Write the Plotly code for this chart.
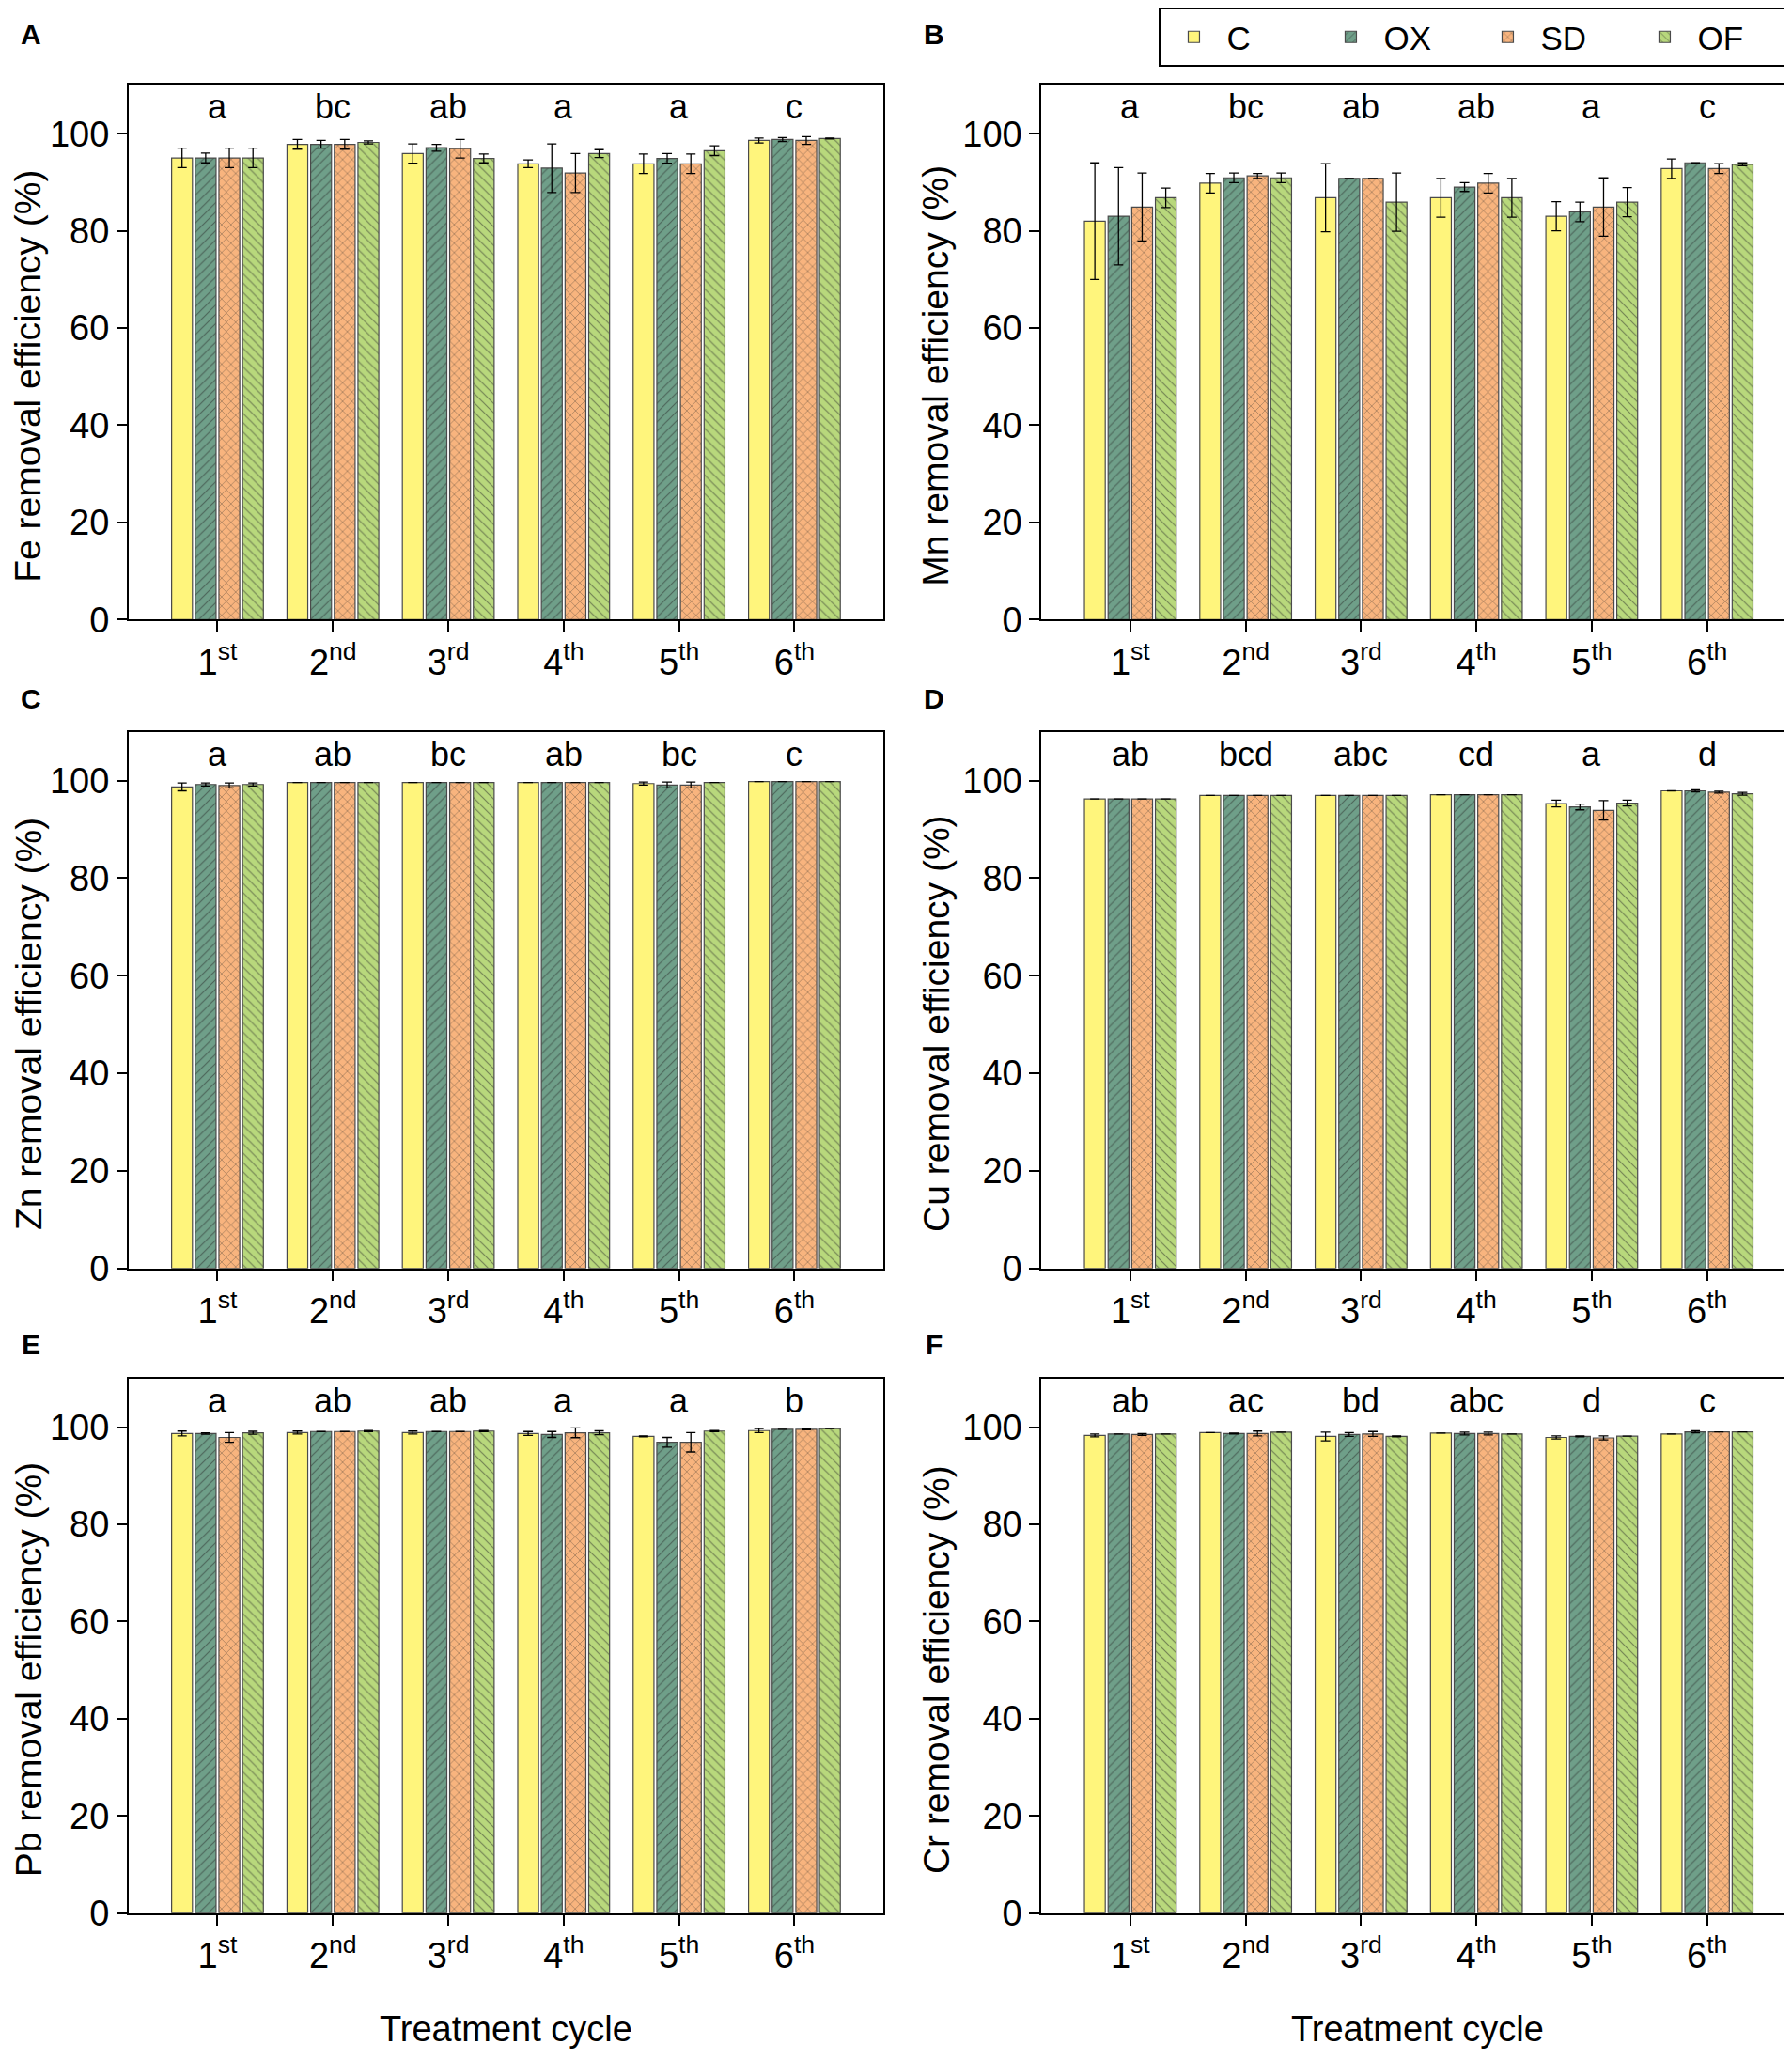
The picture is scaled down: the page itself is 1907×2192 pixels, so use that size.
import plotly.graph_objects as go

# ciclos de tratamento e tratamentos
ciclos = ["1<sup>st</sup>", "2<sup>nd</sup>", "3<sup>rd</sup>", "4<sup>th</sup>", "5<sup>th</sup>", "6<sup>th</sup>"]
tratamentos = ["C", "OX", "SD", "OF"]

# Fe
fe_C = [95.0, 97.8, 95.9, 93.8, 93.8, 98.6]
fe_OX = [95.0, 97.8, 97.1, 92.9, 94.9, 98.8]
fe_SD = [95.0, 97.8, 96.9, 91.9, 93.8, 98.6]
fe_OF = [95.0, 98.2, 94.9, 95.9, 96.5, 99.0]
fe_C_err = [2.0, 1.0, 2.0, 0.8, 2.0, 0.5]
fe_OX_err = [1.0, 0.8, 0.7, 5.0, 1.0, 0.4]
fe_SD_err = [2.0, 1.0, 1.9, 4.0, 2.0, 0.8]
fe_OF_err = [2.0, 0.3, 0.9, 0.8, 1.0, 0.1]
fe_letras = ["a", "bc", "ab", "a", "a", "c"]

# Mn
mn_C = [82.0, 89.8, 86.8, 86.8, 83.0, 92.8]
mn_OX = [83.0, 90.9, 90.8, 89.0, 83.9, 94.0]
mn_SD = [84.9, 91.3, 90.8, 89.8, 84.9, 92.8]
mn_OF = [86.8, 90.9, 85.9, 86.8, 85.9, 93.7]
mn_C_err = [12.0, 2.0, 7.0, 4.0, 3.0, 2.0]
mn_OX_err = [10.0, 1.0, 0.0, 0.9, 2.0, 0.0]
mn_SD_err = [7.0, 0.5, 0.0, 2.0, 6.0, 1.0]
mn_OF_err = [2.0, 1.0, 6.0, 4.0, 3.0, 0.3]
mn_letras = ["a", "bc", "ab", "ab", "a", "c"]

# Zn
zn_C = [98.7, 99.6, 99.6, 99.6, 99.4, 99.8]
zn_OX = [99.2, 99.6, 99.6, 99.6, 99.1, 99.8]
zn_SD = [99.0, 99.6, 99.6, 99.6, 99.1, 99.8]
zn_OF = [99.2, 99.6, 99.6, 99.6, 99.6, 99.8]
zn_C_err = [0.8, 0.0, 0.0, 0.0, 0.3, 0.0]
zn_OX_err = [0.3, 0.0, 0.0, 0.0, 0.6, 0.0]
zn_SD_err = [0.5, 0.0, 0.0, 0.0, 0.6, 0.0]
zn_OF_err = [0.3, 0.0, 0.0, 0.0, 0.0, 0.0]
zn_letras = ["a", "ab", "bc", "ab", "bc", "c"]

# Cu
cu_C = [96.25, 96.95, 96.95, 97.1, 95.3, 97.9]
cu_OX = [96.25, 96.95, 96.95, 97.1, 94.6, 97.9]
cu_SD = [96.25, 96.95, 96.95, 97.1, 93.9, 97.65]
cu_OF = [96.25, 96.95, 96.95, 97.1, 95.4, 97.3]
cu_C_err = [0.0, 0.0, 0.0, 0.0, 0.7, 0.0]
cu_OX_err = [0.0, 0.0, 0.0, 0.0, 0.6, 0.2]
cu_SD_err = [0.0, 0.0, 0.0, 0.0, 2.0, 0.2]
cu_OF_err = [0.0, 0.0, 0.0, 0.0, 0.6, 0.3]
cu_letras = ["ab", "bcd", "abc", "cd", "a", "d"]

# Pb
pb_C = [98.7, 98.9, 98.9, 98.7, 98.1, 99.3]
pb_OX = [98.7, 99.1, 99.1, 98.5, 96.9, 99.55]
pb_SD = [97.9, 99.1, 99.1, 98.85, 96.9, 99.55]
pb_OF = [98.85, 99.2, 99.2, 98.85, 99.2, 99.7]
pb_C_err = [0.5, 0.3, 0.3, 0.4, 0.1, 0.4]
pb_OX_err = [0.15, 0.0, 0.0, 0.6, 1.0, 0.0]
pb_SD_err = [1.0, 0.0, 0.0, 1.0, 2.0, 0.1]
pb_OF_err = [0.3, 0.1, 0.1, 0.4, 0.1, 0.0]
pb_letras = ["a", "ab", "ab", "a", "a", "b"]

# Cr
cr_C = [98.3, 98.9, 98.1, 98.8, 97.9, 98.6]
cr_OX = [98.6, 98.7, 98.5, 98.7, 98.1, 99.05]
cr_SD = [98.5, 98.7, 98.6, 98.7, 97.8, 99.05]
cr_OF = [98.6, 99.0, 98.1, 98.6, 98.15, 99.05]
cr_C_err = [0.3, 0.0, 0.9, 0.0, 0.3, 0.0]
cr_OX_err = [0.0, 0.1, 0.4, 0.3, 0.1, 0.2]
cr_SD_err = [0.2, 0.5, 0.5, 0.3, 0.4, 0.0]
cr_OF_err = [0.0, 0.0, 0.1, 0.0, 0.0, 0.0]
cr_letras = ["ab", "ac", "bd", "abc", "d", "c"]

paineis = [
    ("A", "Fe", [fe_C, fe_OX, fe_SD, fe_OF], [fe_C_err, fe_OX_err, fe_SD_err, fe_OF_err], fe_letras),
    ("B", "Mn", [mn_C, mn_OX, mn_SD, mn_OF], [mn_C_err, mn_OX_err, mn_SD_err, mn_OF_err], mn_letras),
    ("C", "Zn", [zn_C, zn_OX, zn_SD, zn_OF], [zn_C_err, zn_OX_err, zn_SD_err, zn_OF_err], zn_letras),
    ("D", "Cu", [cu_C, cu_OX, cu_SD, cu_OF], [cu_C_err, cu_OX_err, cu_SD_err, cu_OF_err], cu_letras),
    ("E", "Pb", [pb_C, pb_OX, pb_SD, pb_OF], [pb_C_err, pb_OX_err, pb_SD_err, pb_OF_err], pb_letras),
    ("F", "Cr", [cr_C, cr_OX, cr_SD, cr_OF], [cr_C_err, cr_OX_err, cr_SD_err, cr_OF_err], cr_letras),
]

cores = ["#FFF57C", "#6F9F89", "#F8B47E", "#B8D87C"]
padroes = ["", "/", "x", "\\"]

fonte = "Liberation Sans, Arial, sans-serif"
x_dom = [[0.0676, 0.4887], [0.577, 0.998]]
y_dom = [[0.700, 0.962], [0.382, 0.645], [0.066, 0.328]]
letra_x = [0.013, 0.517]
letra_y = [0.987, 0.661, 0.345]

fig = go.Figure()
anot = []
layout_eixos = {}

for n, (letra, metal, valores, erros, sig) in enumerate(paineis):
    lin = n // 2
    col = n % 2
    sx = "" if n == 0 else str(n + 1)
    for t in range(4):
        fig.add_trace(go.Bar(
            x=ciclos, y=valores[t], name=tratamentos[t],
            xaxis="x" + sx, yaxis="y" + sx,
            offsetgroup=str(t), legendgroup=tratamentos[t], showlegend=(n == 0),
            marker=dict(color=cores[t], line=dict(color="#4a4a4a", width=1.2),
                        pattern=dict(shape=padroes[t], fgcolor="#2a2a2a", size=7, solidity=0.17)),
            error_y=dict(type="data", array=erros[t], color="black", thickness=1.3, width=5),
        ))
    layout_eixos["xaxis" + sx] = dict(
        domain=x_dom[col], anchor="y" + sx, type="category", range=[-0.77, 5.77],
        showline=True, linecolor="black", linewidth=2, mirror=True,
        ticks="outside", ticklen=11, tickwidth=1.5, tickcolor="black",
        tickfont=dict(size=38, family=fonte, color="black"), showgrid=False,
    )
    layout_eixos["yaxis" + sx] = dict(
        domain=y_dom[lin], anchor="x" + sx, range=[0, 110],
        tickvals=[0, 20, 40, 60, 80, 100],
        showline=True, linecolor="black", linewidth=2, mirror=True,
        ticks="outside", ticklen=11, tickwidth=1.5, tickcolor="black",
        tickfont=dict(size=38, family=fonte, color="black"), showgrid=False, zeroline=False,
    )
    # letras de significancia
    for i, s in enumerate(sig):
        anot.append(dict(x=ciclos[i], y=105.5, xref="x" + sx, yref="y" + sx, text=s,
                         showarrow=False, xanchor="center", yanchor="middle",
                         font=dict(size=36, family=fonte, color="black")))
    # titulo eixo y
    anot.append(dict(x=[0.0115, 0.518][col], y=(y_dom[lin][0] + y_dom[lin][1]) / 2 - 0.0115,
                     xref="paper", yref="paper", text=metal + " removal efficiency (%)",
                     textangle=-90, showarrow=False, xanchor="center", yanchor="middle",
                     font=dict(size=39, family=fonte, color="black")))
    # letra do painel
    anot.append(dict(x=letra_x[col], y=letra_y[lin], xref="paper", yref="paper",
                     text="<b>" + letra + "</b>", showarrow=False,
                     xanchor="center", yanchor="middle",
                     font=dict(size=30, family=fonte, color="black")))

for xc in [0.278, 0.787]:
    anot.append(dict(x=xc, y=0.009, xref="paper", yref="paper", text="Treatment cycle",
                     showarrow=False, xanchor="center", yanchor="middle",
                     font=dict(size=38, family=fonte, color="black")))

fig.update_layout(
    width=1907, height=2192,
    margin=dict(l=0, r=0, t=0, b=0),
    paper_bgcolor="white", plot_bgcolor="white",
    barmode="group", bargap=0.18, bargroupgap=0.12,
    font=dict(family=fonte, color="black"),
    legend=dict(orientation="h", x=0.995, y=1.0, xanchor="right", yanchor="top",
                bordercolor="black", borderwidth=2, font=dict(size=35, family=fonte),
                itemwidth=60, entrywidth=92, traceorder="normal"),
    annotations=anot,
    **layout_eixos,
)

fig.write_html("out.html")
